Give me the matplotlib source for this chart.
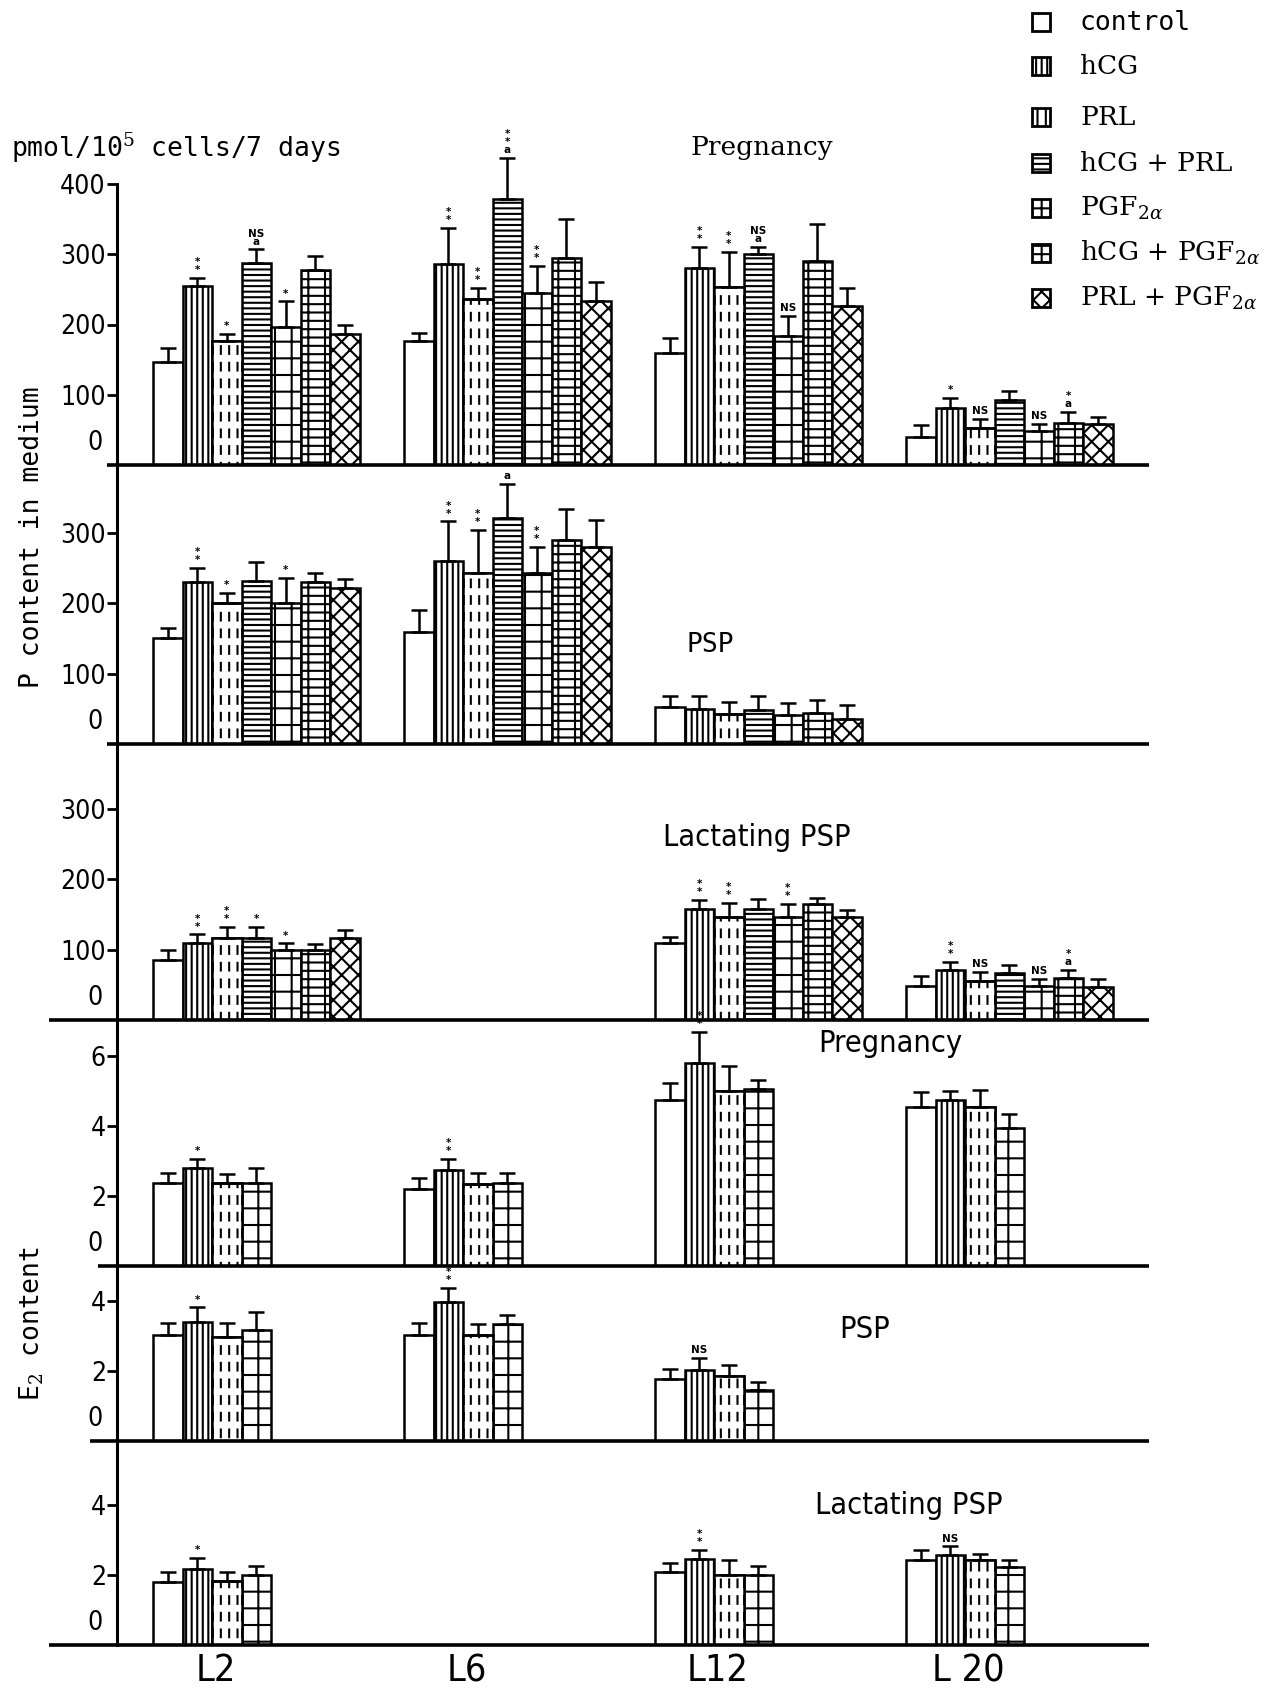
import numpy as np
import matplotlib
matplotlib.use("Agg")
import matplotlib.pyplot as plt
from matplotlib import font_manager
from matplotlib.font_manager import FontProperties
from matplotlib.patches import Rectangle

# ---- values ----
treatments = ["control", "hCG", "PRL", "hCG + PRL", r"PGF$_{2\alpha}$",
              r"hCG + PGF$_{2\alpha}$", r"PRL + PGF$_{2\alpha}$"]
days = ["L2", "L6", "L12", "L 20"]
e2_treatments = [0, 1, 2, 4]   # control, hCG, PRL, PGF2a

# P content in medium (pmol/10^5 cells/7 days); None = stage not shown
p_preg_mean = [[147, 255, 176, 287, 197, 278, 187],
               [176, 286, 237, 378, 245, 295, 234],
               [160, 280, 253, 300, 184, 290, 227],
               [40, 81, 52, 93, 48, 60, 58]]
p_preg_err = [[20, 11, 11, 20, 36, 20, 12],
              [12, 51, 15, 59, 38, 55, 27],
              [21, 31, 50, 11, 28, 53, 25],
              [17, 14, 14, 12, 10, 16, 11]]
p_preg_marks = [["", "*\n*", "*", "NS\na", "*", "", ""],
                ["", "*\n*", "*\n*", "*\n*\na", "*\n*", "", ""],
                ["", "*\n*", "*\n*", "NS\na", "NS", "", ""],
                ["", "*", "NS", "", "NS", "*\na", ""]]

p_psp_mean = [[151, 230, 201, 232, 200, 231, 222],
              [160, 260, 244, 322, 243, 290, 281],
              [53, 50, 42, 48, 41, 44, 35],
              None]
p_psp_err = [[14, 21, 14, 27, 37, 12, 13],
             [31, 57, 61, 48, 38, 45, 38],
             [15, 18, 18, 20, 17, 18, 20],
             None]
p_psp_marks = [["", "*\n*", "*", "", "*", "", ""],
               ["", "*\n*", "*\n*", "a", "*\n*", "", ""],
               ["", "", "", "", "", "", ""],
               None]

p_lact_mean = [[86, 109, 117, 117, 99, 99, 117],
               None,
               [110, 158, 147, 158, 147, 165, 147],
               [49, 71, 56, 67, 48, 60, 47]]
p_lact_err = [[13, 13, 16, 16, 10, 9, 11],
              None,
              [8, 13, 20, 14, 18, 9, 9],
              [13, 12, 12, 12, 10, 11, 11]]
p_lact_marks = [["", "*\n*", "*\n*", "*", "*", "", ""],
                None,
                ["", "*\n*", "*\n*", "", "*\n*", "", ""],
                ["", "*\n*", "NS", "", "NS", "*\na", ""]]

# E2 content
e2_preg_mean = [[2.38, 2.80, 2.36, 2.36],
                [2.20, 2.75, 2.33, 2.38],
                [4.73, 5.80, 5.00, 5.07],
                [4.53, 4.75, 4.53, 3.95]]
e2_preg_err = [[0.27, 0.27, 0.28, 0.43],
               [0.32, 0.31, 0.34, 0.28],
               [0.49, 0.90, 0.71, 0.25],
               [0.44, 0.25, 0.49, 0.39]]
e2_preg_marks = [["", "*", "", ""],
                 ["", "*\n*", "", ""],
                 ["", "*\n*", "", ""],
                 ["", "", "", ""]]

e2_psp_mean = [[3.02, 3.41, 2.98, 3.17],
               [3.02, 3.98, 3.02, 3.35],
               [1.77, 2.04, 1.85, 1.46],
               None]
e2_psp_err = [[0.35, 0.41, 0.39, 0.53],
              [0.35, 0.39, 0.31, 0.26],
              [0.29, 0.33, 0.33, 0.23],
              None]
e2_psp_marks = [["", "*", "", ""],
                ["", "*\n*", "", ""],
                ["", "NS", "", ""],
                None]

e2_lact_mean = [[1.80, 2.17, 1.83, 1.99],
                None,
                [2.08, 2.45, 1.99, 1.99],
                [2.42, 2.56, 2.42, 2.23]]
e2_lact_err = [[0.28, 0.31, 0.25, 0.27],
               None,
               [0.25, 0.27, 0.43, 0.28],
               [0.30, 0.26, 0.18, 0.19]]
e2_lact_marks = [["", "*", "", ""],
                 None,
                 ["", "*\n*", "", ""],
                 ["", "NS", "", ""]]

# ---- styles ----
hatches = ["", "|||", "||", "---", "+", "--|", "xx"]

# condensed sans if one is around, else plain DejaVu Sans
cond = [f.fname for f in font_manager.fontManager.ttflist
        if ("Narrow" in f.name or "Condensed" in f.fname)
        and "Bold" not in f.fname and "Oblique" not in f.fname
        and "Italic" not in f.fname and "Mono" not in f.fname
        and "Serif" not in f.fname]
if cond:
    def narrow(size):
        return FontProperties(fname=cond[0], size=size)
    NSIZE = 19
else:
    def narrow(size):
        return FontProperties(family="DejaVu Sans", size=size)
    NSIZE = 16
MONO = "DejaVu Sans Mono"
SERIF = "DejaVu Serif"

plt.rcParams["hatch.linewidth"] = 1.5
plt.rcParams["mathtext.fontset"] = "dejavuserif"

W, H = 1278, 1696
fig = plt.figure(figsize=(W / 100, H / 100), dpi=100)


def fx(px):
    return px / W


def fy(py):
    return 1 - py / H


bw = 29.5 / 251          # bar width in group units (groups are 1 apart)
xlim = (-36 / 251, (1149 - 153) / 251)


def draw_panel(top, bottom, ymax, yticks, means, errs, marks, idx,
               base_left, title, title_xy, title_font):
    ax = fig.add_axes([fx(117), fy(bottom), (1149 - 117) / W, (bottom - top) / H])
    ax.set_xlim(*xlim)
    ax.set_ylim(0, ymax)
    for s in ("top", "right", "bottom"):
        ax.spines[s].set_visible(False)
    ax.spines["left"].set_linewidth(2.2)
    ax.set_xticks([])
    ax.set_yticks(yticks)
    ax.set_yticklabels([str(t) for t in yticks])
    for lab in ax.get_yticklabels():
        lab.set_fontproperties(narrow(NSIZE))
    ax.tick_params(axis="y", length=7, width=2, pad=1)
    ax.patch.set_alpha(0)
    # zero label sits a little above the baseline in the original
    ax.annotate("0", xy=(0, 0), xycoords=("axes fraction", "data"),
                xytext=(-10, 16), textcoords="offset points",
                ha="right", va="center", fontproperties=narrow(NSIZE))
    # baseline
    ax.plot([(base_left - 117) / (1149 - 117), 1.0], [0, 0], color="black",
            lw=2.6, transform=ax.get_yaxis_transform(), clip_on=False,
            solid_capstyle="butt", zorder=5)

    for g, (m, e, mk) in enumerate(zip(means, errs, marks)):
        if m is None:
            continue
        for j, (val, er, lab) in enumerate(zip(m, e, mk)):
            t = idx[j]
            x0 = g + j * bw
            ax.bar(x0, val, bw, align="edge", facecolor="white",
                   edgecolor="black", linewidth=1.8, hatch=hatches[t], zorder=2)
            if t == 2:
                # break the PRL verticals into dashes
                ov = ax.bar(x0, val, bw, align="edge", fill=False,
                            edgecolor="white", linewidth=0, hatch="-", zorder=2.1)
                for p in ov:
                    try:
                        p.set_hatch_linewidth(5)
                    except AttributeError:
                        pass
                ax.bar(x0, val, bw, align="edge", fill=False,
                       edgecolor="black", linewidth=1.8, zorder=2.2)
            eb = ax.errorbar(x0 + bw / 2, val, yerr=[[0], [er]], fmt="none",
                             ecolor="black", elinewidth=1.8, capsize=6,
                             capthick=1.8, zorder=3)
            for a in eb.get_children():
                a.set_clip_on(False)
            if lab:
                ax.annotate(lab, xy=(x0 + bw / 2, val + er),
                            xytext=(0, 2), textcoords="offset points",
                            ha="center", va="bottom", fontsize=7.5,
                            fontweight="bold", linespacing=0.75,
                            annotation_clip=False)
    fig.text(fx(title_xy[0]), fy(title_xy[1]), title, ha="center",
             va="center", **title_font)
    return ax


p_scale = 70.25 / 100    # pixels per pmol unit
e_scale = 35.0           # pixels per E2 unit
p7 = list(range(7))

draw_panel(184, 465, 281 / p_scale, [100, 200, 300, 400],
           p_preg_mean, p_preg_err, p_preg_marks, p7, 107,
           "Pregnancy", (762, 148), dict(family=SERIF, fontsize=19))
draw_panel(465, 744, 279 / p_scale, [100, 200, 300],
           p_psp_mean, p_psp_err, p_psp_marks, p7, 107,
           "PSP", (710, 645), dict(family=MONO, fontsize=19))
draw_panel(744, 1020, 276 / p_scale, [100, 200, 300],
           p_lact_mean, p_lact_err, p_lact_marks, p7, 49,
           "Lactating PSP", (757, 838), dict(fontproperties=narrow(NSIZE + 3)))
draw_panel(1020, 1266, 246 / e_scale, [2, 4, 6],
           e2_preg_mean, e2_preg_err, e2_preg_marks, e2_treatments, 98,
           "Pregnancy", (890, 1043), dict(fontproperties=narrow(NSIZE + 3)))
draw_panel(1266, 1441, 175 / e_scale, [2, 4],
           e2_psp_mean, e2_psp_err, e2_psp_marks, e2_treatments, 90,
           "PSP", (865, 1330), dict(fontproperties=narrow(NSIZE + 3)))
ax6 = draw_panel(1441, 1645, 204 / e_scale, [2, 4],
                 e2_lact_mean, e2_lact_err, e2_lact_marks, e2_treatments, 49,
                 "Lactating PSP", (909, 1505), dict(fontproperties=narrow(NSIZE + 3)))

ax6.set_xticks(np.arange(len(days)) + 0.25)
ax6.set_xticklabels(days)
for lab in ax6.get_xticklabels():
    lab.set_fontproperties(narrow(NSIZE + 8))
ax6.tick_params(axis="x", length=0, pad=6)

# axis texts
fig.text(fx(11), fy(149), r"pmol/10$^5$ cells/7 days", ha="left", va="center",
         family=MONO, fontsize=19)
fig.text(fx(32), fy(537), "P content in medium", rotation=90, ha="center",
         va="center", family=MONO, fontsize=19)
fig.text(fx(32), fy(1324), r"E$_2$ content", rotation=90, ha="center",
         va="center", family=MONO, fontsize=19)

# legend
leg_y = [22, 66, 117, 163, 208, 253, 298]
for t, (lab, yc) in enumerate(zip(treatments, leg_y)):
    fig.add_artist(Rectangle((fx(1032), fy(yc + 9)), 18 / W, 18 / H,
                             transform=fig.transFigure, facecolor="white",
                             edgecolor="black", lw=2, hatch=hatches[t]))
    fam = MONO if t == 0 else SERIF
    fig.text(fx(1080), fy(yc + 8), lab, ha="left", va="baseline",
             family=fam, fontsize=19)

fig.savefig("out.png", dpi=100, facecolor="white")
